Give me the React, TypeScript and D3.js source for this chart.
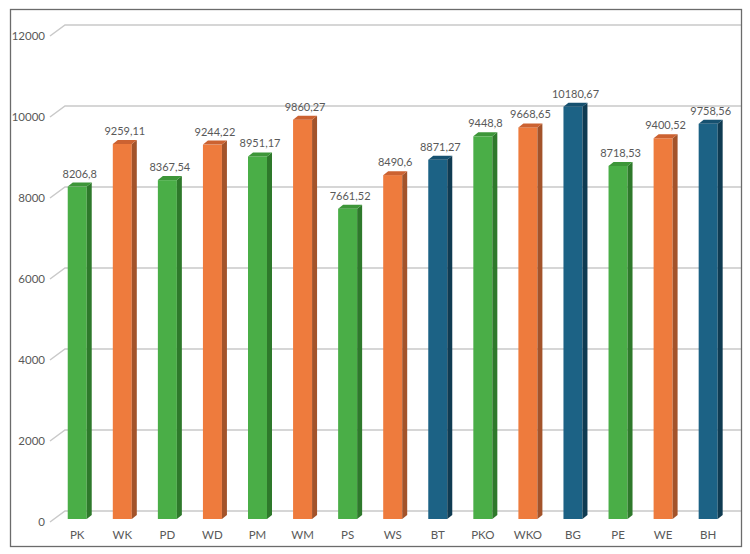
import React from "react";
import * as d3 from "d3";

const categories = ["PK", "WK", "PD", "WD", "PM", "WM", "PS", "WS", "BT", "PKO", "WKO", "BG", "PE", "WE", "BH"];
const values = [8206.8, 9259.11, 8367.54, 9244.22, 8951.17, 9860.27, 7661.52, 8490.6, 8871.27, 9448.8, 9668.65, 10180.67, 8718.53, 9400.52, 9758.56];
const groups = ["P", "W", "P", "W", "P", "W", "P", "W", "B", "P", "W", "B", "P", "W", "B"];
const yTicks = [0, 2000, 4000, 6000, 8000, 10000, 12000];

const palette: Record<string, { front: string; top: string; side: string }> = {
  P: { front: "#4aae47", top: "#3d9639", side: "#2e792b" },
  W: { front: "#ee7b3d", top: "#cc6231", side: "#a3532a" },
  B: { front: "#1c6285", top: "#165170", side: "#0f3b52" },
};

const W = 750;
const H = 554;
// back wall depth offset
const DX = 15;
const DY = -11;
// bar front depth offset relative to floor front
const BFY = -3;
// bar depth
const BDX = 5;
const BDY = -4;

export default function App() {
  const y = d3.scaleLinear().domain([0, 12000]).range([522, 36]);
  const x = d3.scaleBand<string>().domain(categories).range([54.7, 730.7]).paddingInner(0).paddingOuter(0);
  const bw = 19;
  const font = "Lato, 'Open Sans', sans-serif";
  const fmt = (v: number) => String(v).replace(".", ",");

  return (
    <svg width={W} height={H} style={{ position: "absolute", left: 0, top: 0, background: "#fff" }}>
      <rect x={0} y={0} width={W} height={H} fill="#fff" />
      {/* gridlines */}
      {yTicks.map((t) => (
        <g key={t}>
          <polyline
            points={`50,${y(t)} ${50 + DX},${y(t) + DY} 741,${y(t) + DY}`}
            fill="none"
            stroke="#c9c9c9"
            strokeWidth={1.5}
          />
          <text x={45} y={y(t)} dy="0.35em" textAnchor="end" fontFamily={font} fontSize={11.5} fill="#595959">
            {t}
          </text>
        </g>
      ))}
      {/* bars */}
      {categories.map((c, i) => {
        const cx = (x(c) as number) + x.bandwidth() / 2;
        const v = values[i];
        const col = palette[groups[i]];
        const y0 = y(0) + BFY;
        const y1 = y(v) + BFY;
        const l = cx - bw / 2;
        const r = cx + bw / 2;
        return (
          <g key={c}>
            <rect x={l} y={y1} width={bw} height={y0 - y1} fill={col.front} />
            <polygon
              points={`${r},${y0} ${r},${y1} ${r + BDX},${y1 + BDY} ${r + BDX},${y0 + BDY}`}
              fill={col.side}
            />
            <polygon
              points={`${l},${y1} ${r},${y1} ${r + BDX},${y1 + BDY} ${l + BDX},${y1 + BDY}`}
              fill={col.top}
            />
            <text
              x={cx + 2.5}
              y={y1 - 9}
              textAnchor="middle"
              fontFamily={font}
              fontSize={11}
              fill="#595959"
            >
              {fmt(v)}
            </text>
            <text x={cx} y={539} textAnchor="middle" fontFamily={font} fontSize={11.5} fill="#595959">
              {c}
            </text>
          </g>
        );
      })}
      {/* border */}
      <rect x={10.5} y={9.5} width={731} height={537} fill="none" stroke="#6b6b6b" strokeWidth={1.3} />
    </svg>
  );
}
